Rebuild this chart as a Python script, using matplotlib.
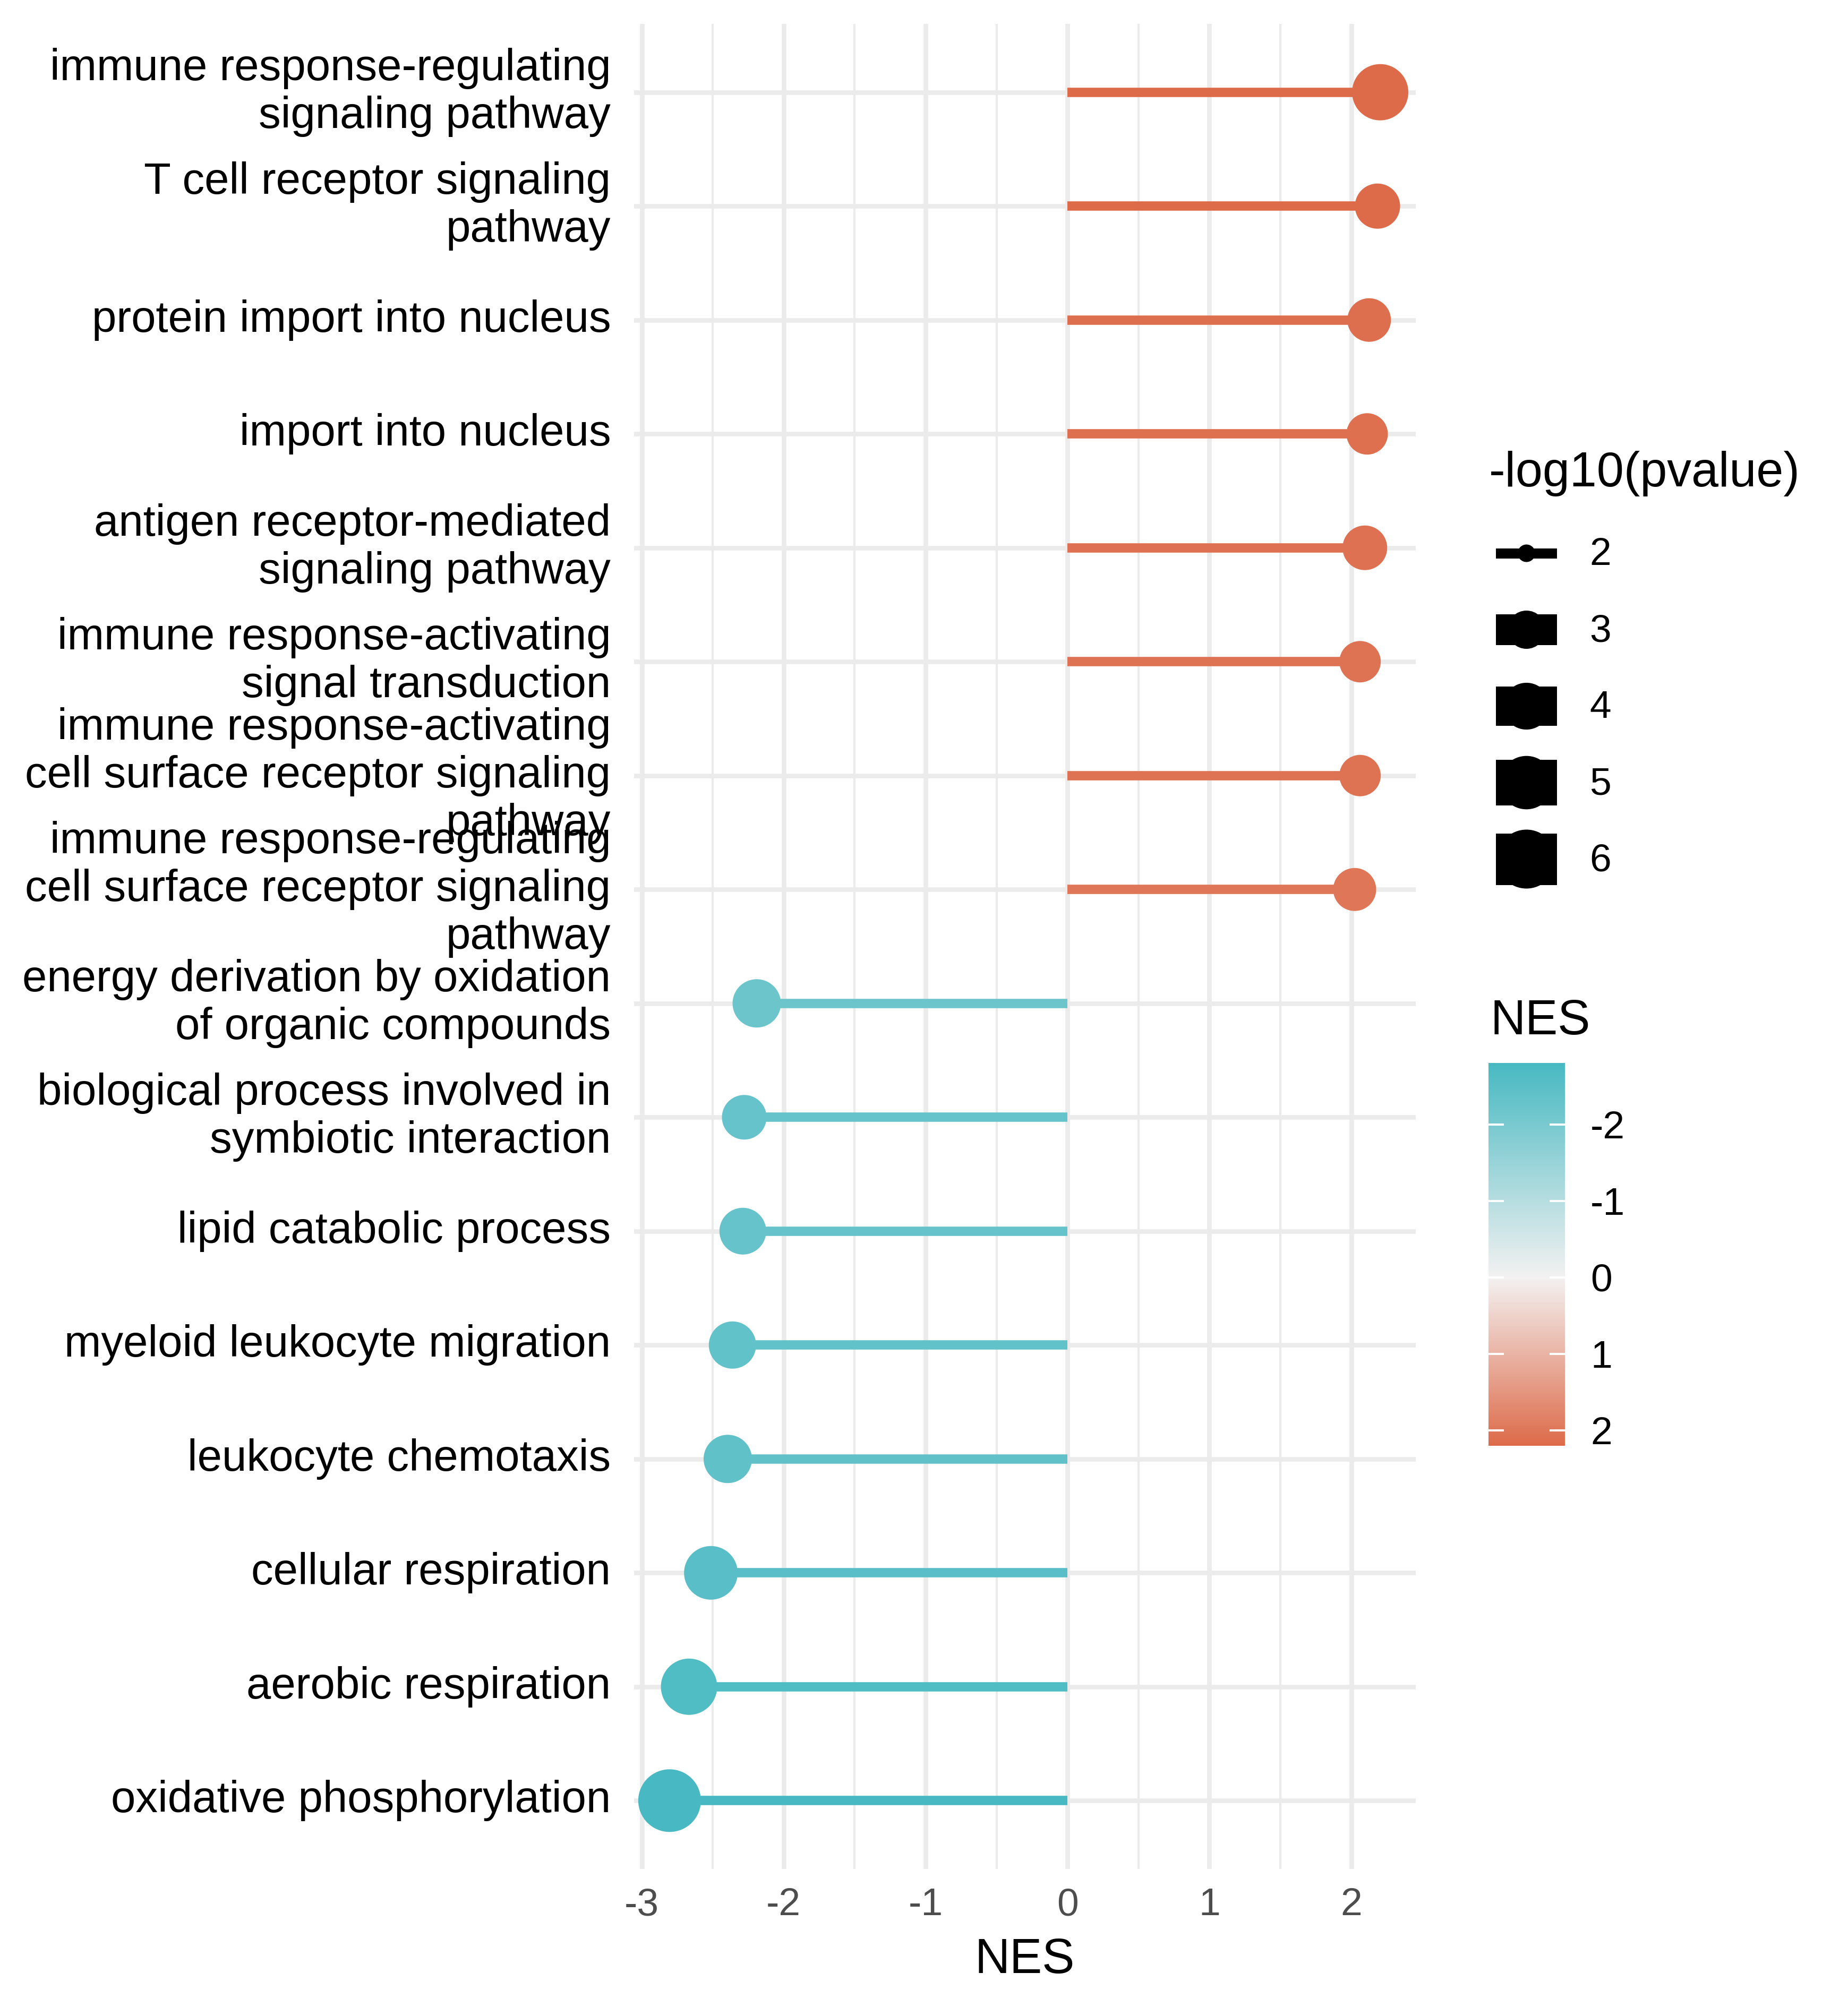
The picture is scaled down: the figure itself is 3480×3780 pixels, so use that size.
import numpy as np
import matplotlib
matplotlib.use('Agg')
import matplotlib.pyplot as plt
from matplotlib.colors import LinearSegmentedColormap, Normalize
from matplotlib.cm import ScalarMappable
from matplotlib.patches import Rectangle, Circle
from matplotlib.ticker import MultipleLocator
from matplotlib.transforms import ScaledTranslation

plt.rcParams['font.family'] = ['Liberation Sans', 'DejaVu Sans']
plt.rcParams['axes.unicode_minus'] = False

# GO terms, top to bottom
terms = [
    'immune response-regulating\nsignaling pathway',
    'T cell receptor signaling\npathway',
    'protein import into nucleus',
    'import into nucleus',
    'antigen receptor-mediated\nsignaling pathway',
    'immune response-activating\nsignal transduction',
    'immune response-activating\ncell surface receptor signaling\npathway',
    'immune response-regulating\ncell surface receptor signaling\npathway',
    'energy derivation by oxidation\nof organic compounds',
    'biological process involved in\nsymbiotic interaction',
    'lipid catabolic process',
    'myeloid leukocyte migration',
    'leukocyte chemotaxis',
    'cellular respiration',
    'aerobic respiration',
    'oxidative phosphorylation',
]
nes = [2.204, 2.185, 2.126, 2.112, 2.096, 2.062, 2.062, 2.024,
       -2.190, -2.278, -2.288, -2.361, -2.394, -2.513, -2.667, -2.804]
neglog10p = [5.50, 3.78, 3.58, 3.33, 3.71, 3.33, 3.33, 3.51,
             4.21, 3.71, 3.99, 4.06, 4.21, 5.04, 5.50, 6.75]

size_breaks = [2, 3, 4, 5, 6]
nes_breaks = [-2, -1, 0, 1, 2]
x_ticks = [-3, -2, -1, 0, 1, 2]

low_col = '#48B9C2'
mid_col = '#F3F1F1'
high_col = '#DD6B4A'

W, H, DPI = 3480, 3780, 300


def px2pt(px):
    return np.asarray(px) * 72 / DPI


def diam_px(v):
    # point diameter in pixels for a -log10(pvalue)
    return 33 + 39 * np.sqrt(np.maximum(np.asarray(v, dtype=float) - 2, 0))


fig = plt.figure(figsize=(W / DPI, H / DPI), dpi=DPI)
ax = fig.add_axes([1194 / W, 1 - 3520 / H, (2666 - 1194) / W, (3520 - 45) / H])

lo, hi = min(nes), max(nes)
cmap = LinearSegmentedColormap.from_list(
    'nes', [(0, low_col), (-lo / (hi - lo), mid_col), (1, high_col)])
norm = Normalize(lo, hi)
cols = cmap(norm(nes))

ypos = np.arange(len(terms))
ax.hlines(ypos, 0, nes, colors=cols, linewidth=px2pt(17.6), zorder=3, capstyle='butt')
ax.scatter(nes, ypos, s=px2pt(diam_px(neglog10p)) ** 2, c=cols, linewidths=0, zorder=4)

span = hi - lo
ax.set_xlim(lo - 0.05 * span, hi + 0.05 * span)
ax.set_ylim(len(terms) - 1 + 0.6, -0.6)

ax.set_xticks(x_ticks)
ax.set_xticklabels([str(t) for t in x_ticks])
ax.xaxis.set_minor_locator(MultipleLocator(0.5))
ax.set_yticks(ypos)
ax.set_yticklabels(terms)
shift = ScaledTranslation(0, -6 / DPI, fig.dpi_scale_trans)
for lab in ax.get_yticklabels():
    lab.set_va('center')
    lab.set_transform(lab.get_transform() + shift)

ax.grid(which='major', axis='both', color='#EBEBEB', linewidth=px2pt(8.6))
ax.grid(which='minor', axis='x', color='#EBEBEB', linewidth=px2pt(4.3))
ax.set_axisbelow(True)
for sp in ax.spines.values():
    sp.set_visible(False)
ax.tick_params(axis='both', which='both', length=0)
ax.tick_params(axis='x', labelsize=17.6, labelcolor='#4D4D4D', pad=8.5)
ax.tick_params(axis='y', labelsize=20, labelcolor='black', pad=10.5)

# overlay in pixel coordinates for titles and the size legend
lax = fig.add_axes([0, 0, 1, 1])
lax.set_xlim(0, W)
lax.set_ylim(H, 0)
lax.axis('off')

lax.text(1930, 3716, 'NES', fontsize=22, ha='center', va='baseline')

lax.text(2804, 916, '-log10(pvalue)', fontsize=22, ha='left', va='baseline')
key_cx, key_w = 2874.5, 115
for i, v in enumerate(size_breaks):
    cy = 1042 + i * 144
    d = float(diam_px(v))
    rh = max(d - 14, 16)
    lax.add_patch(Rectangle((key_cx - key_w / 2, cy - rh / 2), key_w, rh, color='black', lw=0))
    lax.add_patch(Circle((key_cx, cy), d / 2, color='black', lw=0))
    lax.text(2993, cy + 4, str(v), fontsize=17.6, ha='left', va='center')

lax.text(2807, 1948, 'NES', fontsize=22, ha='left', va='baseline')
cax = fig.add_axes([2803 / W, 1 - 2723 / H, 144 / W, (2723 - 2002) / H])
cb = fig.colorbar(ScalarMappable(norm=norm, cmap=cmap), cax=cax, ticks=nes_breaks)
cb.outline.set_visible(False)
cax.invert_yaxis()
cax.set_yticklabels([str(t) for t in nes_breaks])
cax.tick_params(length=0, labelsize=17.6, pad=px2pt(48))
tr = cax.get_yaxis_transform()
for t in nes_breaks:
    cax.plot([0, 0.2], [t, t], color='white', lw=px2pt(4), transform=tr, solid_capstyle='butt')
    cax.plot([0.8, 1], [t, t], color='white', lw=px2pt(4), transform=tr, solid_capstyle='butt')

fig.savefig('out.png', dpi=DPI)
